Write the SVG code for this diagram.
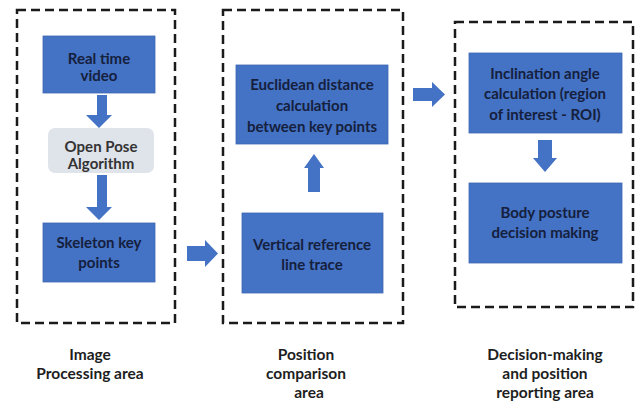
<svg xmlns="http://www.w3.org/2000/svg" width="639" height="405" viewBox="0 0 639 405">
<style>
.area{fill:none;stroke:#1a1a1a;stroke-width:2.5;stroke-dasharray:9 5}
.blue{fill:#4472c4;stroke:#3f68b3;stroke-width:0.8}
.gray{fill:#dfe3ea}
.arr{fill:#4472c4}
.t{font-family:Lato,"Liberation Sans",sans-serif;font-weight:bold;font-size:15px;fill:#15203d;text-anchor:middle}
.tg{font-family:Lato,"Liberation Sans",sans-serif;font-weight:bold;font-size:15px;fill:#333333;text-anchor:middle}
.lab{font-family:Lato,"Liberation Sans",sans-serif;font-weight:bold;font-size:15.5px;fill:#1e1e1e;text-anchor:middle}
</style>
<rect width="639" height="405" fill="#ffffff"/>
<g id="area1"><rect class="area" x="17" y="10" width="158" height="313"/></g>
<g id="area2"><rect class="area" x="223" y="10" width="180" height="313"/></g>
<g id="area3"><rect class="area" x="455" y="22" width="178" height="285"/></g>

<g id="real-time-video"><rect class="blue" x="43" y="36" width="112" height="57"/>
<text class="t" x="99" y="64">Real time</text><text class="t" x="99" y="81">video</text></g>
<g id="open-pose"><rect class="gray" x="48" y="128" width="106" height="45" rx="7"/>
<text class="tg" x="101" y="152">Open Pose</text><text class="tg" x="101" y="169">Algorithm</text></g>
<g id="skeleton"><rect class="blue" x="43" y="223" width="112" height="59"/>
<text class="t" x="99" y="248">Skeleton key</text><text class="t" x="99" y="268">points</text></g>

<g id="euclidean"><rect class="blue" x="236" y="65" width="152" height="79"/>
<text class="t" x="312" y="90">Euclidean distance</text><text class="t" x="312" y="111">calculation</text><text class="t" x="312" y="132">between key points</text></g>
<g id="vertical"><rect class="blue" x="242" y="213" width="141" height="80"/>
<text class="t" x="312" y="250">Vertical reference</text><text class="t" x="312" y="270">line trace</text></g>

<g id="inclination"><rect class="blue" x="469" y="53" width="153" height="80"/>
<text class="t" x="545" y="79">Inclination angle</text><text class="t" x="545" y="99">calculation (region</text><text class="t" x="545" y="120">of interest - ROI)</text></g>
<g id="body-posture"><rect class="blue" x="469" y="183" width="153" height="80"/>
<text class="t" x="545" y="218">Body posture</text><text class="t" x="545" y="238">decision making</text></g>

<g id="connectors">
<polygon class="arr" points="97,95 107,95 107,115 112,115 99,128 86,115 97,115"/>
<polygon class="arr" points="97,175 107,175 107,207 112,207 99,220 86,207 97,207"/>
<polygon class="arr" points="187,246 205,246 205,240 218,253.5 205,267 205,261 187,261"/>
<polygon class="arr" points="308,192 320,192 320,168 324,168 314,154 304,168 308,168"/>
<polygon class="arr" points="413,88 432,88 432,82 445,94.5 432,107 432,101 413,101"/>
<polygon class="arr" points="538,140 552,140 552,158 557,158 545,172 533,158 538,158"/>
</g>

<g id="labels">
<text class="lab" x="90" y="360">Image</text><text class="lab" x="90" y="379">Processing area</text>
<text class="lab" x="306" y="360">Position</text><text class="lab" x="306" y="379">comparison</text><text class="lab" x="309" y="398">area</text>
<text class="lab" x="545" y="360">Decision-making</text><text class="lab" x="545" y="379">and position</text><text class="lab" x="545" y="398">reporting area</text>
</g>
</svg>
